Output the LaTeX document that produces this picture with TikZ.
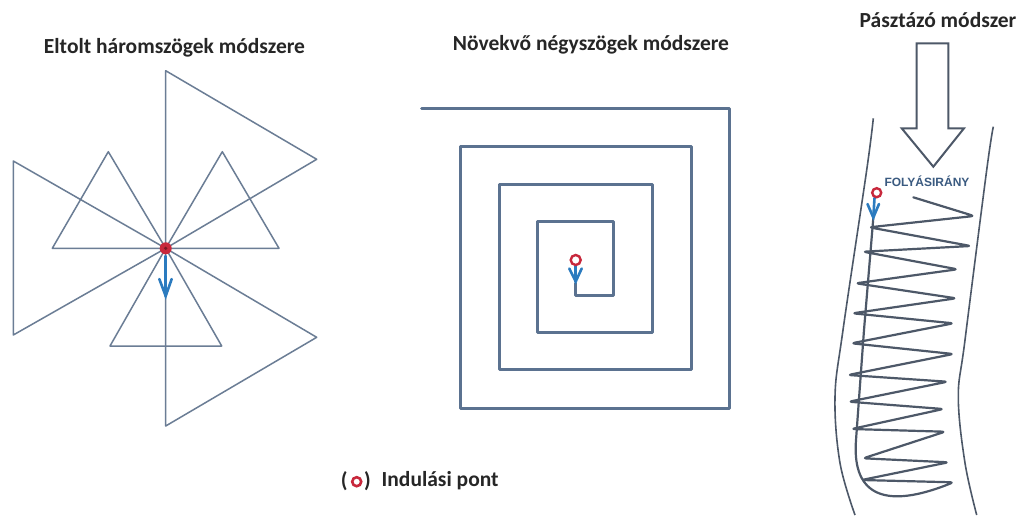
\documentclass[tikz,border=0pt]{standalone}
\usepackage{fontspec}
\setmainfont{Carlito}
\newfontfamily\capsfont{Liberation Sans}
\definecolor{starline}{HTML}{6B7D95}
\definecolor{spirline}{HTML}{5B7290}
\definecolor{riverline}{HTML}{4D5868}
\definecolor{arrowblue}{HTML}{2B7BBF}
\definecolor{startred}{HTML}{C8283C}
\definecolor{flowtext}{HTML}{3A5A80}
\tikzset{
  titletext/.style={font=\fontsize{21.5}{24}\selectfont\bfseries, text=black!85, inner sep=0pt},
  legendtext/.style={font=\fontsize{21.5}{24}\selectfont\bfseries, text=black!85, inner sep=0pt},
  starpath/.style={draw=starline, line width=1.5pt, line join=round},
  spirpath/.style={draw=spirline, line width=3pt, line join=round, line cap=round},
  riverbank/.style={draw=riverline, line width=1.6pt},
  scanpath/.style={draw=riverline, line width=2.2pt, line join=round, line cap=round},
  startv/.style={draw=arrowblue, line width=2.6pt, line join=miter, line cap=round},
  startdot/.style={circle, draw=startred, fill=white, line width=2.4pt, inner sep=0pt},
}
\begin{document}
\begin{tikzpicture}[x=1pt, y=-1pt]
\useasboundingbox (0,0) rectangle (1017,515);
\fill[white] (0,0) rectangle (1017,515);

% ---------- titles ----------
\node[titletext] (t1) at (174.5,48) {Eltolt háromszögek módszere};
\node[titletext] (t2) at (591,45) {Növekvő négyszögek módszere};
\node[titletext] (t3) at (938,20) {Pásztázó módszer};

% ---------- shifted triangles ----------
\coordinate (c) at (165.7,248.3);
\draw[starpath] (c) -- (165.7,70.7) -- (316.7,159.3) -- cycle;
\draw[starpath] (c) -- (13.3,161) -- (13.3,335) -- cycle;
\draw[starpath] (c) -- (316.7,337.3) -- (165.7,426) -- cycle;
\draw[starpath] (c) -- (108.3,151.7) -- (52.3,248.3) -- cycle;
\draw[starpath] (c) -- (222.3,151.7) -- (279,248.3) -- cycle;
\draw[starpath] (c) -- (110,346) -- (221.7,346) -- cycle;
\draw[startv] (165.7,256) -- (165.7,296);
\draw[startv] (159.3,279) -- (165.7,296) -- (171.7,279);
\node[circle, fill=startred, minimum size=12pt, inner sep=0pt] (s1) at (c) {};
\fill[startred!60!black] (c) circle (1.8pt);

% ---------- growing squares ----------
\draw[spirpath] (421.7,108.3) -- (729.3,108.3) -- (729.3,408.3) -- (460.7,408.3)
  -- (460.7,146) -- (691,146) -- (691,369.3) -- (499.3,369.3) -- (499.3,184.3)
  -- (652.3,184.3) -- (652.3,332.3) -- (537.7,332.3) -- (537.7,221.7)
  -- (613.3,221.7) -- (613.3,295) -- (575.7,295) -- (575.7,283);
\draw[startv] (575.7,266) -- (575.7,281.5);
\draw[startv] (569.3,268.5) -- (575.7,281.5) -- (581.7,268.5);
\node[startdot, minimum size=10pt] (s2) at (575.7,260) {};

% ---------- scanning method ----------
\draw[draw=riverline, line width=2pt, fill=white, line join=miter]
  (916.7,43.3) -- (948.3,43.3) -- (948.3,128.3) -- (964,128.3) -- (933.3,166.7)
  -- (901.7,128.3) -- (916.7,128.3) -- cycle;
\node[font=\capsfont\fontsize{12}{14}\selectfont\bfseries, text=flowtext, inner sep=0pt] (flow) at (927,181) {FOLYÁSIRÁNY};

\draw[riverbank] plot[smooth, tension=0.6] coordinates {(873.3,118.3) (866.7,170) (843,330) (835,397) (840,463) (855,515)};
\draw[riverbank] plot[smooth, tension=0.6] coordinates {(993.3,126.7) (986.7,170) (965,340) (958.3,397) (965,463) (976.7,515)};

\draw[scanpath, rounded corners=3pt] (873.3,218) -- (864,330) -- (856,440)
  .. controls (853,495) and (885,510) .. (953.3,482.3)
  -- (861.7,480) -- (948.3,462.3) -- (863.3,458.3) -- (945,431.7)
  -- (851.7,429) -- (943.3,409) -- (849,401.7) -- (947.3,381.7)
  -- (848.3,375) -- (953.3,354) -- (851.7,343.3) -- (953.3,323.3)
  -- (852.7,313.3) -- (956,298.3) -- (856,283.3) -- (957.3,269.3)
  -- (863.3,251.7) -- (970.7,246) -- (869.3,227.3) -- (974,216) -- (913.3,197.3);
\draw[startv] (874.5,198) -- (873.3,217.5);
\draw[startv] (867.5,204) -- (873.3,217.5) -- (879,204);
\node[startdot, minimum size=9pt] (s3) at (876.7,192.7) {};

% ---------- legend ----------
\node[legendtext] (lp1) at (344.2,481) {(};
\node[startdot, minimum size=9pt, line width=2.6pt] (ld) at (356.7,481.7) {};
\node[legendtext] (lp2) at (367.5,481) {)};
\node[legendtext, anchor=west] (lt) at (381.5,481) {Indulási pont};
\end{tikzpicture}
\end{document}
